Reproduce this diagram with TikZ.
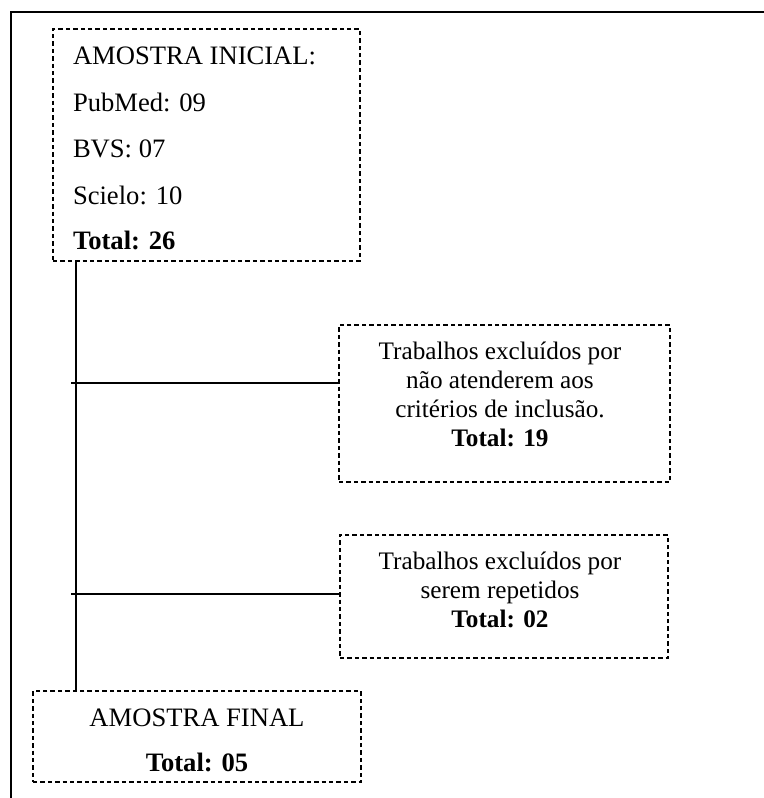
\documentclass[tikz,border=0pt]{standalone}
\usepackage{fontspec}
\setmainfont{Liberation Serif}
\begin{document}
\begin{tikzpicture}[x=0.5pt,y=-0.5pt,
  box/.style={draw, dash pattern=on 2.2pt off 1.5pt, line width=0.7pt, inner sep=0pt, outer sep=0pt, rectangle},
  txt/.style={font=\fontsize{12.6}{14}\selectfont, inner sep=0pt, outer sep=0pt},
  txtb/.style={font=\fontsize{13.3}{15}\selectfont, inner sep=0pt, outer sep=0pt},
  conn/.style={line width=0.7pt},
  framel/.style={line width=0.9pt}]
\useasboundingbox (0,0) rectangle (764,798);
% outer frame
\coordinate (ftl) at (11,12);
\coordinate (ftr) at (764,12);
\coordinate (fbl) at (11,798);
\draw[framel] (ftr) -- (ftl) -- (fbl);
% boxes
\node[box, minimum width=153.5pt, minimum height=116pt] (box1) at (206.5,145) {};
\node[box, minimum width=165.5pt, minimum height=78.5pt] (box2) at (504.5,403.5) {};
\node[box, minimum width=164pt, minimum height=61.5pt] (box3) at (504,596.5) {};
\node[box, minimum width=164pt, minimum height=45.5pt] (box4) at (197,736.5) {};
% box 1 text
\node[txtb, anchor=base west] (t11) at (73,64) {AMOSTRA INICIAL:};
\node[txtb, anchor=base west] (t12) at (73,111) {PubMed: 09};
\node[txtb, anchor=base west] (t13) at (73,157.5) {BVS: 07};
\node[txtb, anchor=base west] (t14) at (73,204) {Scielo: 10};
\node[txtb, anchor=base west] (t15) at (73,249) {\textbf{Total: 26}};
% box 2 text
\node[txt, anchor=base] (t21) at (500,359) {Trabalhos excluídos por};
\node[txt, anchor=base] (t22) at (500,388) {não atenderem aos};
\node[txt, anchor=base] (t23) at (500,417) {critérios de inclusão.};
\node[txt, anchor=base] (t24) at (500,446) {\textbf{Total: 19}};
% box 3 text
\node[txt, anchor=base] (t31) at (500,569) {Trabalhos excluídos por};
\node[txt, anchor=base] (t32) at (500,598) {serem repetidos};
\node[txt, anchor=base] (t33) at (500,627.5) {\textbf{Total: 02}};
% box 4 text
\node[txtb, anchor=base] (t41) at (197,726) {AMOSTRA FINAL};
\node[txtb, anchor=base] (t42) at (197,771.5) {\textbf{Total: 05}};
% connectors
\coordinate (vx) at (76,0);
\draw[conn] (box1.south -| vx) -- (box4.north -| vx);
\coordinate (h1) at (71,383);
\coordinate (h2) at (71,594);
\draw[conn] (h1) -- (h1 -| box2.west);
\draw[conn] (h2) -- (h2 -| box3.west);
\end{tikzpicture}
\end{document}
